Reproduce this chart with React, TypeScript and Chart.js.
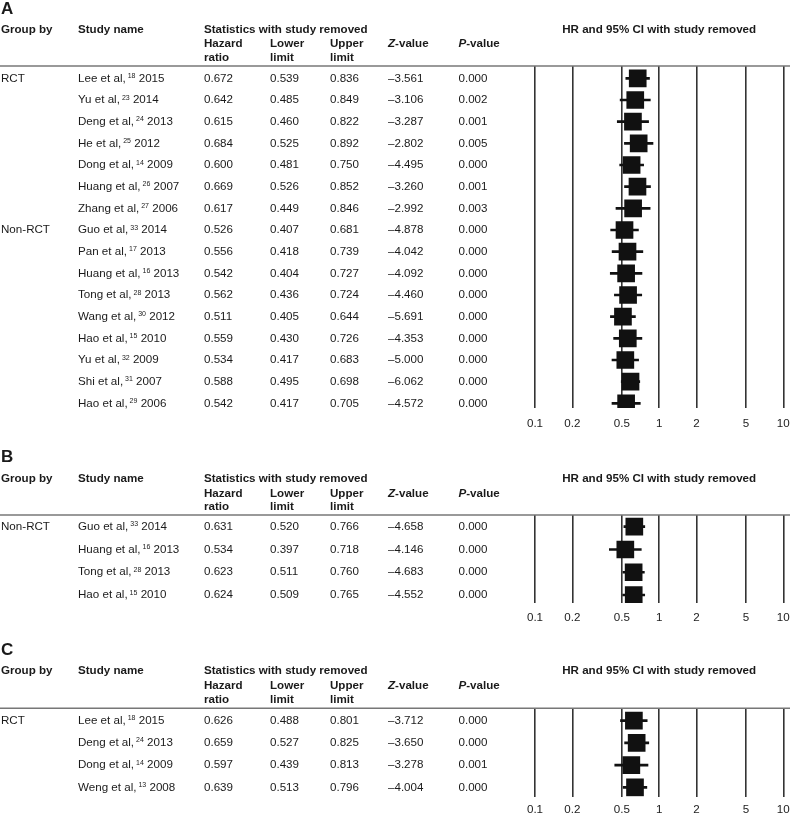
import React, { useEffect, useRef } from "react";
import { Chart, registerables } from "chart.js";

Chart.register(...registerables);

const FONT = '"Liberation Sans", Arial, Helvetica, sans-serif';
const FS = 11.6;
const INK = "#1a1a1a";

// x-axis tick labels
const tickValues = [0.1, 0.2, 0.5, 1, 2, 5, 10];

// ---------- Panel A ----------
const groupsA = ["RCT", "Non-RCT"];
const groupRowsA = [0, 7];
const authorsA = [
  "Lee et al,", "Yu et al,", "Deng et al,", "He et al,", "Dong et al,", "Huang et al,", "Zhang et al,",
  "Guo et al,", "Pan et al,", "Huang et al,", "Tong et al,", "Wang et al,", "Hao et al,", "Yu et al,", "Shi et al,", "Hao et al,",
];
const refsA = ["18", "23", "24", "25", "14", "26", "27", "33", "17", "16", "28", "30", "15", "32", "31", "29"];
const yearsA = ["2015", "2014", "2013", "2012", "2009", "2007", "2006", "2014", "2013", "2013", "2013", "2012", "2010", "2009", "2007", "2006"];
const hrA = [0.672, 0.642, 0.615, 0.684, 0.6, 0.669, 0.617, 0.526, 0.556, 0.542, 0.562, 0.511, 0.559, 0.534, 0.588, 0.542];
const lowerA = [0.539, 0.485, 0.46, 0.525, 0.481, 0.526, 0.449, 0.407, 0.418, 0.404, 0.436, 0.405, 0.43, 0.417, 0.495, 0.417];
const upperA = [0.836, 0.849, 0.822, 0.892, 0.75, 0.852, 0.846, 0.681, 0.739, 0.727, 0.724, 0.644, 0.726, 0.683, 0.698, 0.705];
const zA = [-3.561, -3.106, -3.287, -2.802, -4.495, -3.26, -2.992, -4.878, -4.042, -4.092, -4.46, -5.691, -4.353, -5.0, -6.062, -4.572];
const pA = [0.0, 0.002, 0.001, 0.005, 0.0, 0.001, 0.003, 0.0, 0.0, 0.0, 0.0, 0.0, 0.0, 0.0, 0.0, 0.0];

// ---------- Panel B ----------
const groupsB = ["Non-RCT"];
const groupRowsB = [0];
const authorsB = ["Guo et al,", "Huang et al,", "Tong et al,", "Hao et al,"];
const refsB = ["33", "16", "28", "15"];
const yearsB = ["2014", "2013", "2013", "2010"];
const hrB = [0.631, 0.534, 0.623, 0.624];
const lowerB = [0.52, 0.397, 0.511, 0.509];
const upperB = [0.766, 0.718, 0.76, 0.765];
const zB = [-4.658, -4.146, -4.683, -4.552];
const pB = [0.0, 0.0, 0.0, 0.0];

// ---------- Panel C ----------
const groupsC = ["RCT"];
const groupRowsC = [0];
const authorsC = ["Lee et al,", "Deng et al,", "Dong et al,", "Weng et al,"];
const refsC = ["18", "24", "14", "13"];
const yearsC = ["2015", "2013", "2009", "2008"];
const hrC = [0.626, 0.659, 0.597, 0.639];
const lowerC = [0.488, 0.527, 0.439, 0.513];
const upperC = [0.801, 0.825, 0.813, 0.796];
const zC = [-3.712, -3.65, -3.278, -4.004];
const pC = [0.0, 0.0, 0.001, 0.0];

// ---------- layout (canvas-relative pixel positions) ----------
const COLS = { group: 1, study: 78, hr: 204, lower: 270, upper: 330, z: 388, p: 458.5 };
const CANVAS_W = 800; // wider than the page, clipped at 790
const PLOT = { left: 535, right: 783.3 };

const layoutA = { top: 0, height: 440, title: 9.2, h1: 29.3, h2: 44, h3: 58, line: 66, bottom: 408, row0: 78.3, step: 21.67, tickPad: 8.8 };
const layoutB = { top: 440, height: 190, title: 17.6, h1: 38.3, h2: 53.3, h3: 66.7, line: 75, bottom: 163, row0: 86.7, step: 22.77, tickPad: 7.4 };
const layoutC = { top: 630, height: 196, title: 20, h1: 40.7, h2: 55.7, h3: 70, line: 78.3, bottom: 166.7, row0: 90.7, step: 22.2, tickPad: 6.2 };

const panels = [
  { letter: "A", groups: groupsA, groupRows: groupRowsA, authors: authorsA, refs: refsA, years: yearsA, hr: hrA, lower: lowerA, upper: upperA, z: zA, p: pA, layout: layoutA },
  { letter: "B", groups: groupsB, groupRows: groupRowsB, authors: authorsB, refs: refsB, years: yearsB, hr: hrB, lower: lowerB, upper: upperB, z: zB, p: pB, layout: layoutB },
  { letter: "C", groups: groupsC, groupRows: groupRowsC, authors: authorsC, refs: refsC, years: yearsC, hr: hrC, lower: lowerC, upper: upperC, z: zC, p: pC, layout: layoutC },
];

function font(size: number, bold = false, italic = false) {
  return `${italic ? "italic " : ""}${bold ? "bold " : ""}${size}px ${FONT}`;
}

function drawText(ctx: CanvasRenderingContext2D, s: string, x: number, y: number, f: string, align: CanvasTextAlign = "left") {
  ctx.font = f;
  ctx.textAlign = align;
  ctx.textBaseline = "middle";
  ctx.fillText(s, x, y);
  return ctx.measureText(s).width;
}

function makeTablePlugin(panel: any) {
  return {
    id: "tableText",
    afterDraw(chart: any) {
      const ctx: CanvasRenderingContext2D = chart.ctx;
      const ys = chart.scales.y;
      const area = chart.chartArea;
      const L = panel.layout;
      ctx.save();
      // header rule
      ctx.strokeStyle = "#777";
      ctx.lineWidth = 1.5;
      ctx.beginPath();
      ctx.moveTo(0, area.top);
      ctx.lineTo(chart.width, area.top);
      ctx.stroke();

      ctx.fillStyle = INK;
      // panel letter
      drawText(ctx, panel.letter, 1, L.title, font(17, true));
      // headers
      const hb = font(FS, true);
      drawText(ctx, "Group by", COLS.group, L.h1, hb);
      drawText(ctx, "Study name", COLS.study, L.h1, hb);
      drawText(ctx, "Statistics with study removed", COLS.hr, L.h1, hb);
      drawText(ctx, "HR and 95% CI with study removed", (area.left + area.right) / 2, L.h1, hb, "center");
      drawText(ctx, "Hazard", COLS.hr, L.h2, hb);
      drawText(ctx, "ratio", COLS.hr, L.h3, hb);
      drawText(ctx, "Lower", COLS.lower, L.h2, hb);
      drawText(ctx, "limit", COLS.lower, L.h3, hb);
      drawText(ctx, "Upper", COLS.upper, L.h2, hb);
      drawText(ctx, "limit", COLS.upper, L.h3, hb);
      let w = drawText(ctx, "Z", COLS.z, L.h2, font(FS, true, true));
      drawText(ctx, "-value", COLS.z + w, L.h2, hb);
      w = drawText(ctx, "P", COLS.p, L.h2, font(FS, true, true));
      drawText(ctx, "-value", COLS.p + w, L.h2, hb);

      // rows
      const fr = font(FS);
      panel.groups.forEach((g: string, gi: number) => {
        drawText(ctx, g, COLS.group, ys.getPixelForValue(panel.groupRows[gi]), fr);
      });
      panel.authors.forEach((a: string, i: number) => {
        const y = ys.getPixelForValue(i);
        let x = COLS.study;
        x += drawText(ctx, a, x, y, fr);
        x += 2;
        x += drawText(ctx, panel.refs[i], x, y - 2.4, font(7));
        drawText(ctx, " " + panel.years[i], x, y, fr);
        drawText(ctx, panel.hr[i].toFixed(3), COLS.hr, y, fr);
        drawText(ctx, panel.lower[i].toFixed(3), COLS.lower, y, fr);
        drawText(ctx, panel.upper[i].toFixed(3), COLS.upper, y, fr);
        drawText(ctx, (panel.z[i] < 0 ? "\u2013" : "") + Math.abs(panel.z[i]).toFixed(3), COLS.z, y, fr);
        drawText(ctx, panel.p[i].toFixed(3), COLS.p, y, fr);
      });
      ctx.restore();
    },
  };
}

function Panel({ panel }: { panel: any }) {
  const ref = useRef<HTMLCanvasElement | null>(null);
  const L = panel.layout;
  useEffect(() => {
    const yMin = -(L.row0 - L.line) / L.step;
    const yMax = yMin + (L.bottom - L.line) / L.step;
    const axisH = FS * 1.2 + 2 * L.tickPad;
    const padBottom = L.height - L.bottom - axisH;
    const chart = new Chart(ref.current as HTMLCanvasElement, {
      type: "scatter",
      data: {
        datasets: [
          {
            type: "bar",
            indexAxis: "y",
            data: panel.hr.map((_: number, i: number) => ({ y: i, x: [panel.lower[i], panel.upper[i]] })),
            backgroundColor: "#111",
            borderWidth: 0,
            barThickness: 2,
            order: 2,
          } as any,
          {
            type: "scatter",
            data: panel.hr.map((v: number, i: number) => ({ x: v, y: i })),
            pointStyle: "rect",
            pointRadius: 12.5,
            pointHoverRadius: 12.5,
            backgroundColor: "#111",
            borderWidth: 0,
            order: 1,
          } as any,
        ],
      },
      options: {
        animation: false,
        responsive: false,
        events: [],
        layout: { padding: { left: PLOT.left, right: CANVAS_W - PLOT.right, top: L.line, bottom: padBottom } },
        plugins: { legend: { display: false }, tooltip: { enabled: false } },
        scales: {
          x: {
            type: "logarithmic",
            min: 0.1,
            max: 10,
            offset: false,
            afterBuildTicks: (s: any) => {
              s.ticks = tickValues.map((v) => ({ value: v }));
            },
            grid: { color: "#333", lineWidth: 1.6, drawTicks: false, offset: false },
            border: { display: false },
            ticks: {
              padding: L.tickPad,
              color: "#222",
              font: { family: FONT, size: FS },
              autoSkip: false,
              maxRotation: 0,
              callback: (v: any) => String(v),
            },
          },
          y: {
            type: "linear",
            reverse: true,
            min: yMin,
            max: yMax,
            offset: false,
            beginAtZero: false,
            grid: { offset: false },
            display: false,
          },
        },
      } as any,
      plugins: [makeTablePlugin(panel)],
    });
    return () => chart.destroy();
  }, []);
  return (
    <canvas
      ref={ref}
      width={CANVAS_W}
      height={L.height}
      style={{ position: "absolute", left: 0, top: L.top, width: CANVAS_W, height: L.height }}
    />
  );
}

export default function App() {
  return (
    <div style={{ position: "absolute", left: 0, top: 0, width: 790, height: 813, overflow: "hidden", background: "#fff" }}>
      {panels.map((p) => (
        <Panel key={p.letter} panel={p} />
      ))}
    </div>
  );
}
